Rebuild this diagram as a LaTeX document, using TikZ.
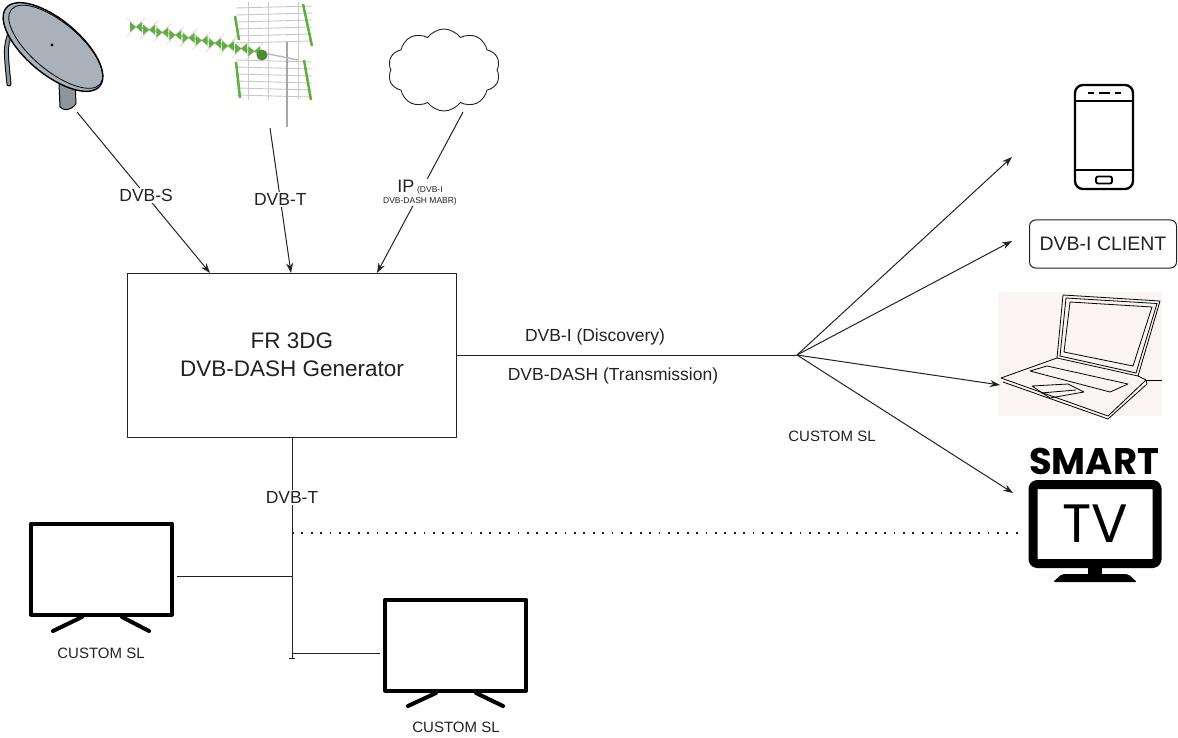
\documentclass[tikz,border=0pt]{standalone}
\usepackage{fontspec}
\setmainfont{Liberation Sans}
\newfontfamily\tvfont{Poppins}
\usetikzlibrary{arrows.meta,shapes.symbols,calc}

\definecolor{ink}{HTML}{222222}
\definecolor{dishgray}{HTML}{A9B2BA}
\definecolor{polegray}{HTML}{8E969C}
\definecolor{antgreen}{HTML}{5FAE3E}
\definecolor{lapbg}{HTML}{FBF4F4}

\tikzset{
  conn/.style={line width=1pt, draw=ink},
  arr/.style={conn, -{Stealth[length=10pt,width=7pt]}},
  lbl/.style={fill=white, inner sep=1.5pt, text=ink, font=\fontsize{17.5}{20}\selectfont},
  small/.style={text=ink, font=\fontsize{15}{17}\selectfont},
  screen/.style={draw=black, line width=4pt, minimum width=141pt, minimum height=91pt, inner sep=0pt},
  leg/.style={line width=4pt, line cap=round},
}

\begin{document}
\begin{tikzpicture}[x=1pt,y=-1pt,line join=round]
\useasboundingbox (0,0) rectangle (1178,738);

% ---------- satellite dish ----------
\draw[line width=5pt, black, line cap=round] (14,24) .. controls (5,45) .. (9,84);
\draw[line width=3pt, polegray, line cap=round] (14,24) .. controls (5,45) .. (9,84);
\draw[fill=polegray, draw=black, line width=1pt, rounded corners=3] (8,16) rectangle (24,30);
\draw[fill=polegray, draw=black, line width=1pt] (58,60) -- (74,56) -- (76,104) .. controls (70,111) and (64,111) .. (60,107) -- cycle;
\draw[fill=dishgray, draw=black, line width=1.4pt, rotate around={-40:(53,47)}] (53,47) ellipse (61pt and 27pt);
\draw[black, line width=0.8pt, rotate around={-40:(53,47)}] (55,45) ellipse (58pt and 24pt);
\fill[black] (52,45) circle (1.6pt);
\node[inner sep=0pt] (dish) at (52,55) {};
\coordinate (dishout) at (77,112);

% ---------- terrestrial antenna ----------
\node[inner sep=0pt] (aerial) at (270,60) {};
\foreach \y in {6,13,20,27,34,41} \draw[gray!45, line width=0.9pt] (236,\y+2) -- (312,\y);
\foreach \y in {60,67,74,81,88,95} \draw[gray!45, line width=0.9pt] (236,\y) -- (312,\y+2);
\foreach \x in {248,268,298} \draw[gray!40, line width=1pt] (\x,2) -- (\x,100);
\draw[antgreen, line width=2.5pt] (235,16) -- (239,40);
\draw[antgreen, line width=2.5pt] (303,4) -- (312,46);
\draw[antgreen, line width=2.5pt] (236,62) -- (240,98);
\draw[antgreen, line width=2.5pt] (304,60) -- (311,100);
\draw[gray!70, line width=2.5pt] (287,42) -- (287,127);
\draw[gray!55, line width=1.4pt] (132,26) -- (298,60);
\foreach \t in {0,0.09,...,0.82} {
  \coordinate (b) at ($(136,27)!\t!(282,57)$);
  \draw[gray!35, line width=0.6pt] ($(b)+(-9,-9)$) -- ($(b)+(9,9)$) ($(b)+(-9,9)$) -- ($(b)+(9,-9)$);
  \fill[antgreen] ($(b)+(-6,-5)$) -- ($(b)+(6,5)$) -- ($(b)+(6,-5)$) -- ($(b)+(-6,5)$) -- cycle;
}
\fill[antgreen!80!black] (262,55) circle (5.5pt);
\coordinate (aerialout) at (270,128);

% ---------- internet cloud ----------
\node[cloud, draw=ink, line width=0.9pt, cloud puffs=10, cloud puff arc=110, aspect=1.35,
      minimum width=112pt, minimum height=82pt] (cloud) at (444,70) {};
\coordinate (cloudout) at (463,112);

% ---------- generator ----------
\node[draw=ink, line width=1pt, minimum width=329pt, minimum height=164pt, align=center,
      text=ink, font=\fontsize{22.5}{28}\selectfont] (gen) at (292,355)
      {FR 3DG\\DVB-DASH Generator};
\coordinate (inS) at (210,273);
\coordinate (inT) at (291,273);
\coordinate (inIP) at (377,273);

\draw[arr] (dishout) -- node[lbl, pos=0.52] (lS) {DVB-S} (inS);
\draw[arr] (aerialout) -- node[lbl, pos=0.49] (lT) {DVB-T} (inT);
\draw[arr] (cloudout) -- node[fill=white, inner sep=1pt, text=ink, align=center, pos=0.5] (lIP)
  {{\fontsize{18}{18}\selectfont IP} {\fontsize{8.5}{10}\selectfont (DVB-I}\\[-1pt]
   {\fontsize{8.5}{10}\selectfont DVB-DASH MABR)}} (inIP);

% ---------- distribution to clients ----------
\coordinate (hub) at (797,355);
\draw[conn] (gen.east |- hub) -- (hub);
\node[lbl, fill=none] (ldisc) at (595,337) {DVB-I (Discovery)};
\node[lbl, fill=none] (ltx) at (613,376) {DVB-DASH (Transmission)};
\node[small] (lcust) at (832,436) {CUSTOM SL};

% phone
\node[draw=black, line width=2.3pt, rounded corners=8pt, minimum width=58pt, minimum height=104pt] (phone) at (1104,137) {};
\draw[line width=2.3pt] ($(phone.north west)+(0,17)$) -- ($(phone.north east)+(0,17)$);
\draw[line width=2.3pt] ($(phone.south west)+(0,-20)$) -- ($(phone.south east)+(0,-20)$);
\draw[line width=2pt] (1088,93) -- (1094,93) (1099,93) -- (1110,93) (1115,93) -- (1121,93);
\draw[line width=1.8pt, rounded corners=2pt] (1096,176.5) rectangle (1112,183.5);

% DVB-I client box
\node[draw=ink, line width=1pt, rounded corners=6pt, minimum width=147pt, minimum height=48pt,
      text=ink, font=\fontsize{19.5}{22}\selectfont] (client) at (1103,244) {DVB-I CLIENT};

% laptop
\node[fill=lapbg, minimum width=164pt, minimum height=124pt, inner sep=0pt] (laptop) at (1080,354) {};
\begin{scope}[line width=0.8pt, draw=black]
  \draw (1063,295) -- (1160,301) -- (1138,376) -- (1057,358) -- cycle;
  \draw (1066,298) -- (1157,303.5) -- (1136,373) -- (1060,356) -- cycle;
  \draw (1070,302) -- (1152,307) -- (1133,366) -- (1064,352) -- cycle;
  \draw (1057,358) -- (1001,378) -- (1108,416) -- (1146,380) -- (1138,376);
  \draw (1003,382) -- (1108,419) -- (1147,384) -- (1146,380);
  \draw (1047,366) -- (1128,384) -- (1110,392) -- (1030,371) -- cycle;
  \draw (1032,386) -- (1068,384) -- (1084,392) -- (1050,398) -- cycle;
  \draw (1041,393) -- (1076,390);
  \draw (1146,380) -- (1162,380);
\end{scope}

% smart TV
\node[text=black, font=\tvfont\bfseries\fontsize{37}{37}\selectfont, inner sep=0pt] (smart) at (1094,461) {SMART};
\node[draw=black, line width=9pt, rounded corners=4pt, minimum width=124pt, minimum height=79pt,
      inner sep=0pt, font=\tvfont\fontsize{54}{54}\selectfont] (smarttv) at (1095,524) {TV};
\fill[black] (1088,566) rectangle (1102,577);
\fill[black, rounded corners=2pt] (1062,574) -- (1128,574) -- (1137,582) -- (1053,582) -- cycle;

\coordinate (toPhone) at (1012,157);
\coordinate (toClient) at (1012,241);
\coordinate (toLaptop) at (1000,385);
\coordinate (toTV) at (1013,493);
\draw[arr] (hub) -- (toPhone);
\draw[arr] (hub) -- (toClient);
\draw[arr] (hub) -- (toLaptop);
\draw[arr] (hub) -- (toTV);

% ---------- terrestrial branch ----------
\coordinate (busend) at (292,658);
\draw[conn] (gen.south) -- node[lbl, pos=0.27] (lT2) {DVB-T} (busend);
\draw[conn] (289,658) -- (295,658);
\coordinate (dotstart) at (292,533);
\coordinate (dotend) at (1025,533);
\draw[ink, line width=1.8pt, dash pattern=on 1.8pt off 7.6pt] (dotstart) -- (dotend);

% left custom screen
\node[screen] (tvl) at (101.5,569) {};
\draw[leg] (82,617) -- (53,631);
\draw[leg] (122,617) -- (149,631);
\node[small] (cl) at (101,653) {CUSTOM SL};
\draw[conn] (tvl.east |- 0,576) ++(3,0) -- (292,576);

% right custom screen
\node[screen] (tvr) at (455.5,645) {};
\draw[leg] (436,693) -- (408,706);
\draw[leg] (476,693) -- (503,706);
\node[small] (cr) at (456,727) {CUSTOM SL};
\draw[conn] (292,653) -- ($(tvr.west |- 0,653)+(-3,0)$);

\end{tikzpicture}
\end{document}
